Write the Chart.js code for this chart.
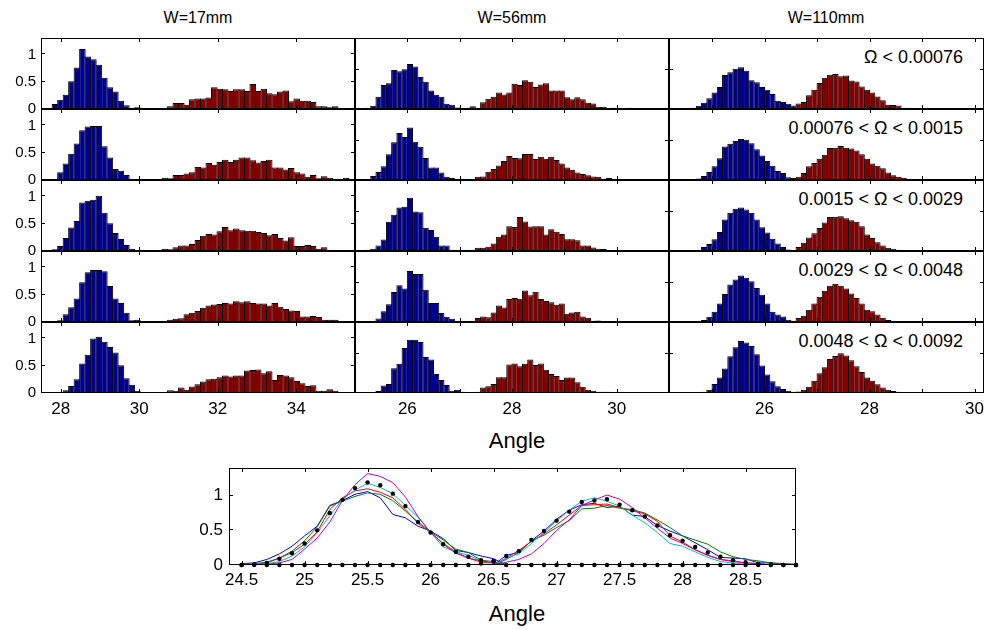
<!DOCTYPE html>
<html><head><meta charset="utf-8">
<script src="https://cdn.jsdelivr.net/npm/chart.js@4.4.1/dist/chart.umd.min.js"></script>
<style>
html,body{margin:0;padding:0;background:#fff;width:985px;height:630px;overflow:hidden;}
body{position:relative;font-family:"Liberation Sans",Arial,sans-serif;color:#000;}
canvas{position:absolute;}
.t{position:absolute;white-space:nowrap;color:#000;line-height:1;}
</style></head><body>
<div class="t" style="left:148px;width:100px;text-align:center;top:10px;font-size:16px;">W=17mm</div>
<div class="t" style="left:462px;width:100px;text-align:center;top:10px;font-size:16px;">W=56mm</div>
<div class="t" style="left:776px;width:100px;text-align:center;top:10px;font-size:16px;">W=110mm</div>
<div class="t" style="left:462px;width:110px;text-align:center;top:430px;font-size:22px;">Angle</div>
<div class="t" style="left:462px;width:110px;text-align:center;top:603px;font-size:22px;">Angle</div>
<div class="t" style="right:22px;top:48px;font-size:18px;">&#937; &lt; 0.00076</div>
<div class="t" style="right:22px;top:119px;font-size:18px;">0.00076 &lt; &#937; &lt; 0.0015</div>
<div class="t" style="right:22px;top:190px;font-size:18px;">0.0015 &lt; &#937; &lt; 0.0029</div>
<div class="t" style="right:22px;top:261px;font-size:18px;">0.0029 &lt; &#937; &lt; 0.0048</div>
<div class="t" style="right:22px;top:332px;font-size:18px;">0.0048 &lt; &#937; &lt; 0.0092</div>
<script>
// ---------- DATA ----------
// Column 1 (W=17mm): bins of 0.14 starting at 27.645; blue from bin 0, red from bin 19
const c1BinStart = 27.645, c1BinWidth = 0.14, c1BlueFirst = 0, c1RedFirst = 19;
const c1r1Blue = [0.01,0.09,0.17,0.26,0.51,0.76,1.10,0.96,0.91,0.81,0.57,0.40,0.32,0.15,0.07,0.01,0.03,0.01,0.01];
const c1r1Red  = [0.01,0.005,0.01,0.05,0.11,0.11,0.08,0.18,0.19,0.19,0.21,0.40,0.37,0.36,0.33,0.36,0.36,0.33,0.46,0.33,0.37,0.29,0.27,0.32,0.34,0.14,0.19,0.15,0.15,0.13,0.05,0.05,0.03,0.05,0.01,0.02];
const c1r2Blue = [0,0.02,0.14,0.30,0.48,0.67,0.91,0.98,0.99,0.99,0.62,0.41,0.20,0.17,0.09,0.02,0,0,0];
const c1r2Red  = [0.02,0,0.04,0.03,0.09,0.09,0.12,0.14,0.24,0.23,0.31,0.28,0.33,0.37,0.33,0.37,0.41,0.41,0.36,0.32,0.35,0.37,0.23,0.23,0.19,0.22,0.14,0.12,0.06,0.09,0.03,0.07,0.04,0.01,0.01,0.04];
const c1r3Blue = [0,0.03,0.09,0.24,0.43,0.55,0.89,0.92,0.94,1.01,0.70,0.51,0.33,0.22,0.11,0.04,0.02,0,0];
const c1r3Red  = [0.01,0.01,0.04,0.03,0.07,0.10,0.10,0.13,0.20,0.28,0.31,0.30,0.36,0.44,0.38,0.41,0.38,0.37,0.37,0.35,0.33,0.29,0.31,0.24,0.19,0.25,0.09,0.09,0.11,0.09,0.04,0.07,0.02,0.02,0.02,0.02];
const c1r4Blue = [0,0.005,0.03,0.14,0.27,0.43,0.73,0.91,0.95,0.95,0.93,0.66,0.43,0.35,0.17,0.03,0.04,0,0];
const c1r4Red  = [0.01,0.01,0.01,0.04,0.06,0.07,0.14,0.17,0.20,0.26,0.30,0.32,0.33,0.35,0.34,0.38,0.36,0.38,0.35,0.34,0.34,0.30,0.35,0.28,0.24,0.21,0.20,0.10,0.10,0.11,0.09,0.04,0.04,0.04,0.02,0.01];
const c1r5Blue = [0,0,0.01,0.05,0.13,0.25,0.54,0.70,1.00,1.03,0.94,0.84,0.74,0.51,0.27,0.15,0.04,0.02,0];
const c1r5Red  = [0.01,0.01,0.02,0.05,0.04,0.10,0.06,0.12,0.16,0.21,0.25,0.26,0.29,0.32,0.30,0.32,0.32,0.41,0.42,0.43,0.36,0.40,0.24,0.33,0.32,0.29,0.22,0.18,0.13,0.14,0.04,0.04,0.07,0.04,0.01,0];

// Column 2 (W=56mm): bins of 0.1 starting at 25.0; blue from bin 0, red from bin 22
const c2BinStart = 25.0, c2BinWidth = 0.1, c2BlueFirst = 0, c2RedFirst = 22;
const c2r1Blue = [0,0.01,0.03,0.08,0.31,0.61,0.65,0.99,0.96,1.01,1.14,1.08,0.81,0.69,0.47,0.36,0.31,0.13,0.11,0.04,0.03,0.03];
const c2r1Red  = [0.07,0.03,0.17,0.26,0.31,0.42,0.37,0.42,0.64,0.61,0.73,0.69,0.56,0.62,0.65,0.47,0.47,0.47,0.30,0.25,0.30,0.25,0.16,0.14,0.06,0.06,0.02,0.03,0,0.01,0.03,0.01,0,0,0,0,0.01,0];
const c2r2Blue = [0,0,0.02,0.10,0.20,0.35,0.65,0.96,1.19,1.09,1.33,0.97,0.84,0.56,0.32,0.32,0.19,0.08,0.05,0.01,0.03,0];
const c2r2Red  = [0,0.08,0.09,0.21,0.28,0.37,0.48,0.61,0.56,0.55,0.66,0.66,0.53,0.59,0.54,0.59,0.51,0.42,0.32,0.26,0.19,0.15,0.12,0.09,0.08,0.03,0.05,0.02,0.01,0,0,0.01,0,0,0,0,0,0];
const c2r3Blue = [0,0,0.03,0.06,0.14,0.29,0.74,0.92,1.10,1.12,1.35,1.00,0.98,0.59,0.53,0.36,0.14,0.14,0.03,0.01,0.01,0];
const c2r3Red  = [0.03,0.08,0.08,0.11,0.19,0.36,0.42,0.63,0.61,0.86,0.75,0.62,0.63,0.63,0.42,0.55,0.49,0.43,0.30,0.30,0.27,0.14,0.14,0.09,0.06,0.05,0,0,0,0,0,0.01,0,0,0,0,0,0];
const c2r4Blue = [0,0,0,0.02,0.09,0.27,0.45,0.76,0.93,0.85,1.29,1.22,1.22,0.82,0.48,0.48,0.23,0.13,0.08,0.01,0.01,0];
const c2r4Red  = [0.03,0.10,0.14,0.12,0.24,0.42,0.37,0.58,0.61,0.59,0.80,0.68,0.77,0.58,0.53,0.50,0.44,0.47,0.21,0.24,0.26,0.14,0.11,0.03,0.04,0.02,0.02,0,0.01,0,0,0.01,0,0,0,0,0,0];
const c2r5Blue = [0,0,0,0.01,0.05,0.19,0.23,0.63,0.74,1.14,1.35,1.35,1.29,0.91,0.85,0.48,0.33,0.20,0.06,0.08,0.03,0.02];
const c2r5Red  = [0,0.03,0.14,0.17,0.23,0.40,0.40,0.72,0.75,0.68,0.74,0.85,0.71,0.75,0.59,0.48,0.43,0.33,0.39,0.39,0.27,0.16,0.08,0.06,0.03,0.03,0.03,0.02,0.02,0,0,0,0,0,0,0,0,0];

// Column 3 (W=110mm): bins of 0.1 starting at 24.5; blue from bin 0, red from bin 21
const c3BinStart = 24.5, c3BinWidth = 0.1, c3BlueFirst = 0, c3RedFirst = 21;
const c3r1Blue = [0.02,0.03,0.08,0.16,0.27,0.42,0.56,0.86,0.93,1.02,1.06,0.97,0.73,0.68,0.56,0.49,0.38,0.21,0.18,0.13,0.09];
const c3r1Red  = [0.14,0.18,0.35,0.49,0.66,0.79,0.87,0.89,0.83,0.85,0.72,0.70,0.57,0.49,0.42,0.32,0.22,0.11,0.10,0.09,0.03,0.03,0.02,0.01];
const c3r2Blue = [0.01,0.02,0.04,0.10,0.20,0.35,0.55,0.85,0.92,0.99,1.04,1.02,0.93,0.78,0.62,0.48,0.36,0.23,0.18,0.07,0.05];
const c3r2Red  = [0.08,0.18,0.35,0.43,0.54,0.64,0.81,0.82,0.86,0.82,0.80,0.75,0.65,0.54,0.42,0.36,0.30,0.19,0.12,0.08,0.06,0.03,0.01,0];
const c3r3Blue = [0,0.01,0.03,0.10,0.18,0.30,0.48,0.80,0.97,1.07,1.10,1.05,0.97,0.80,0.60,0.47,0.31,0.19,0.10,0.04,0.03];
const c3r3Red  = [0.10,0.21,0.34,0.45,0.58,0.72,0.86,0.87,0.88,0.83,0.78,0.74,0.63,0.42,0.33,0.22,0.14,0.08,0.06,0.03,0.02,0,0,0];
const c3r4Blue = [0,0,0.02,0.05,0.13,0.26,0.47,0.71,0.95,1.08,1.18,1.12,1.03,0.86,0.69,0.47,0.26,0.19,0.14,0.06,0.03];
const c3r4Red  = [0.10,0.16,0.31,0.47,0.64,0.79,0.92,0.97,0.92,0.85,0.72,0.61,0.47,0.31,0.27,0.19,0.11,0.05,0.03,0.01,0,0,0,0];
const c3r5Blue = [0,0,0.01,0.03,0.08,0.23,0.39,0.62,0.93,1.16,1.32,1.28,1.19,0.98,0.70,0.47,0.30,0.17,0.10,0.06,0.03];
const c3r5Red  = [0.04,0.08,0.16,0.31,0.50,0.65,0.86,0.94,1.01,0.95,0.83,0.68,0.53,0.39,0.31,0.22,0.14,0.08,0.05,0.03,0.02,0,0,0];

// Bottom overlay: angle grid 24.5 .. 28.9 step 0.1 (45 points); mean of the five groups (black dots)
const bottomStart = 24.5, bottomStep = 0.1, bottomCount = 45;
const meanLeftFirst = 0;
const meanLeft  = [0.0,0.01,0.03,0.09,0.17,0.31,0.50,0.75,0.94,1.11,1.19,1.15,1.03,0.85,0.62,0.47,0.30,0.19,0.12,0.07,0.05];
const meanRightFirst = 19;
const meanRight = [0.02,0.06,0.13,0.20,0.36,0.49,0.64,0.77,0.91,0.93,0.95,0.87,0.79,0.70,0.57,0.43,0.35,0.26,0.18,0.12,0.07,0.04,0.02,0.01,0,0];

const c1XLabels = [28,30,32,34], c1XTicks = [28,30,32,34];
const c2XLabels = [26,28,30], c2XTicks = [26,27,28,29,30];
const c3XLabels = [26,28,30], c3XTicks = [25,26,27,28,29,30];
const c1YLabels = [0,0.5,1];
const c23YTicks = [1];
const bottomXLabels = [24.5,25,25.5,26,26.5,27,27.5,28,28.5];
const bottomYLabels = [0,0.5,1];

// ---------- RENDERING ----------
const FONT = '"Liberation Sans", Arial, sans-serif';
Chart.defaults.font.family = FONT;
Chart.defaults.color = '#000';
const BLUE_FILL = '#00008c', RED_FILL = '#820000';

const frameTicks = {
  id: 'frameTicks',
  afterDraw(chart, args, o) {
    const {ctx, chartArea: a} = chart;
    const sx = chart.scales.x, sy = chart.scales.y;
    const L = o.len || 4;
    const l = Math.round(a.left), r = Math.round(a.right), t = Math.round(a.top), b = Math.round(a.bottom);
    ctx.save();
    ctx.strokeStyle = '#000';
    ctx.lineWidth = 1;
    ctx.beginPath();
    (o.xTicks || []).forEach(v => {
      const p = Math.round(sx.getPixelForValue(v)) + 0.5;
      ctx.moveTo(p, b); ctx.lineTo(p, b - L);
      ctx.moveTo(p, t); ctx.lineTo(p, t + L);
    });
    (o.yTicks || []).forEach(v => {
      const p = Math.round(sy.getPixelForValue(v)) - 0.5;
      ctx.moveTo(l, p); ctx.lineTo(l + L, p);
      ctx.moveTo(r, p); ctx.lineTo(r - L, p);
    });
    ctx.stroke();
    ctx.strokeRect(l + 0.5, t + 0.5, r - l - 1, b - t - 1);
    ctx.restore();
  }
};

function makeCanvas(left, top, w, h) {
  const c = document.createElement('canvas');
  c.width = w; c.height = h;
  c.style.left = left + 'px'; c.style.top = top + 'px';
  c.style.width = w + 'px'; c.style.height = h + 'px';
  document.body.appendChild(c);
  return c;
}

function toPoints(vals, firstBin, binStart, binW) {
  return vals.map((v, i) => ({ x: binStart + binW * (firstBin + i + 0.5), y: v > 0 ? v : null }));
}

function fmt(v) { return String(v); }

function axisCfg(o) {
  return {
    type: 'linear', min: o.min, max: o.max, offset: false, bounds: 'data',
    grid: { display: false, drawTicks: false, offset: false },
    border: { display: false },
    ticks: { display: o.show, autoSkip: false, maxRotation: 0, padding: o.pad, font: { size: o.size }, color: '#000', callback: fmt },
    afterBuildTicks: ax => { ax.ticks = o.labels.map(v => ({ value: v })); },
    afterFit: ax => { if (o.w !== undefined) ax.width = o.w; if (o.h !== undefined) ax.height = o.h; }
  };
}

const COLS = [
  { x0: 41, x1: 355, xmin: 27.5, xmax: 35.5, ymax: 1.3, binStart: c1BinStart, binW: c1BinWidth, blueFirst: c1BlueFirst, redFirst: c1RedFirst,
    blue: [c1r1Blue, c1r2Blue, c1r3Blue, c1r4Blue, c1r5Blue], red: [c1r1Red, c1r2Red, c1r3Red, c1r4Red, c1r5Red],
    xLabels: c1XLabels, xTicks: c1XTicks, yLabels: c1YLabels, yTicks: c1YLabels, showY: true, ml: 41 },
  { x0: 355, x1: 669, xmin: 25, xmax: 31, ymax: 1.8, binStart: c2BinStart, binW: c2BinWidth, blueFirst: c2BlueFirst, redFirst: c2RedFirst,
    blue: [c2r1Blue, c2r2Blue, c2r3Blue, c2r4Blue, c2r5Blue], red: [c2r1Red, c2r2Red, c2r3Red, c2r4Red, c2r5Red],
    xLabels: c2XLabels, xTicks: c2XTicks, yLabels: [], yTicks: c23YTicks, showY: false, ml: 10 },
  { x0: 669, x1: 984, xmin: 24.18, xmax: 30.18, ymax: 1.8, binStart: c3BinStart, binW: c3BinWidth, blueFirst: c3BlueFirst, redFirst: c3RedFirst,
    blue: [c3r1Blue, c3r2Blue, c3r3Blue, c3r4Blue, c3r5Blue], red: [c3r1Red, c3r2Red, c3r3Red, c3r4Red, c3r5Red],
    xLabels: c3XLabels, xTicks: c3XTicks, yLabels: [], yTicks: c23YTicks, showY: false, ml: 10 }
];
const ROW_TOP = [38, 109, 180, 251, 322], ROW_H = 71;

COLS.forEach(col => {
  for (let r = 0; r < 5; r++) {
    const last = r === 4;
    const mt = 22, mr = 12, mb = last ? 40 : 22, ml = col.ml;
    const w = (col.x1 - col.x0) + ml + mr, h = ROW_H + mt + mb;
    const cv = makeCanvas(col.x0 - ml, ROW_TOP[r] - mt, w, h);
    new Chart(cv, {
      type: 'bar',
      data: { datasets: [
        { label: 'low', data: toPoints(col.blue[r], col.blueFirst, col.binStart, col.binW), backgroundColor: BLUE_FILL, order: 2 },
        { label: 'high', data: toPoints(col.red[r], col.redFirst, col.binStart, col.binW), backgroundColor: RED_FILL, order: 1 }
      ] },
      options: {
        responsive: false, animation: false, devicePixelRatio: 1, events: [],
        layout: { padding: { top: mt, right: mr, left: 0, bottom: 0 } },
        datasets: { bar: { barPercentage: 1.19, categoryPercentage: 1, grouped: false, borderColor: '#000', borderWidth: 1, borderSkipped: false } },
        plugins: { legend: { display: false }, tooltip: { enabled: false },
          frameTicks: { xTicks: col.xTicks, yTicks: col.yTicks, len: 4 } },
        scales: {
          x: axisCfg({ min: col.xmin, max: col.xmax, show: last, labels: col.xLabels, pad: 6, size: 17, h: mb }),
          y: axisCfg({ min: 0, max: col.ymax, show: col.showY, labels: col.showY ? col.yLabels : [0], pad: 5, size: 15, w: ml })
        }
      },
      plugins: [frameTicks]
    });
  }
});

// ---------- bottom overlay chart ----------
function padSeries(vals, first, n) {
  const out = [];
  for (let i = 0; i < n; i++) {
    const k = i - first;
    out.push({ x: bottomStart + bottomStep * i, y: (k >= 0 && k < vals.length) ? vals[k] : 0 });
  }
  return out;
}
const lineColors = ['#0000ff', '#008000', '#ff0000', '#00bfbf', '#bf00bf'];
const c3Blue = [c3r1Blue, c3r2Blue, c3r3Blue, c3r4Blue, c3r5Blue];
const c3Red = [c3r1Red, c3r2Red, c3r3Red, c3r4Red, c3r5Red];
const bDatasets = [];
const dotOpts = { type: 'line', showLine: false, pointRadius: 2.2, pointBackgroundColor: '#000', pointBorderWidth: 0, borderColor: '#000', order: 0, clip: false };
bDatasets.push(Object.assign({ label: 'meanL', data: padSeries(meanLeft, meanLeftFirst, bottomCount) }, dotOpts));
bDatasets.push(Object.assign({ label: 'meanR', data: padSeries(meanRight, meanRightFirst, bottomCount) }, dotOpts));
for (let i = 0; i < 5; i++) {
  [padSeries(c3Blue[i], c3BlueFirst, bottomCount), padSeries(c3Red[i], c3RedFirst, bottomCount)].forEach((d, j) => {
    bDatasets.push({ label: 'g' + i + j, data: d, borderColor: lineColors[i], borderWidth: 1, pointRadius: 0, tension: 0, fill: false, order: 5 - i + 1 });
  });
}
(function () {
  const x0 = 229, x1 = 796, y0 = 468, y1 = 565;
  const ml = 49, mt = 24, mr = 20, mb = 34;
  const cv = makeCanvas(x0 - ml, y0 - mt, (x1 - x0) + ml + mr, (y1 - y0) + mt + mb);
  new Chart(cv, {
    type: 'line',
    data: { datasets: bDatasets },
    options: {
      responsive: false, animation: false, devicePixelRatio: 1, events: [],
      layout: { padding: { top: mt, right: mr, left: 0, bottom: 0 } },
      plugins: { legend: { display: false }, tooltip: { enabled: false },
        frameTicks: { xTicks: bottomXLabels, yTicks: bottomYLabels, len: 4 } },
      scales: {
        x: axisCfg({ min: 24.4, max: 28.9, show: true, labels: bottomXLabels, pad: 5, size: 17, h: mb }),
        y: axisCfg({ min: 0, max: 1.4, show: true, labels: bottomYLabels, pad: 6, size: 17, w: ml })
      }
    },
    plugins: [frameTicks]
  });
})();
</script>
</body></html>
